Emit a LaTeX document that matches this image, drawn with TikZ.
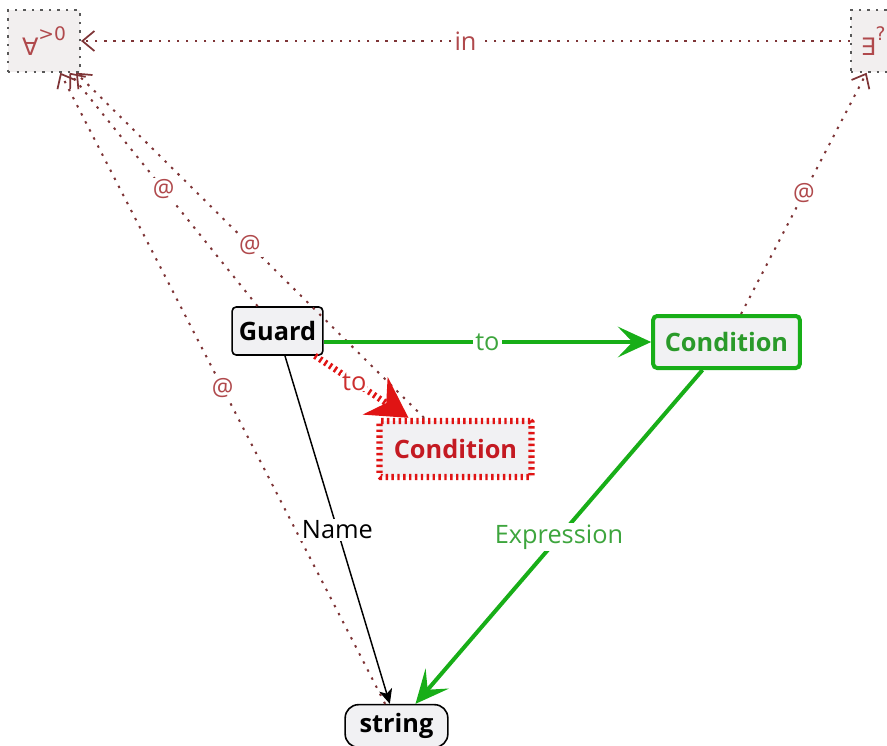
\documentclass[tikz,border=0pt]{standalone}
\usepackage{fontspec}
\setmainfont{Open Sans}
\newfontfamily\symfont{DejaVu Sans}
\usetikzlibrary{arrows.meta}

\definecolor{relline}{HTML}{7E3436}
\definecolor{reltext}{HTML}{B0494C}
\definecolor{boxfill}{HTML}{F1F1F3}
\definecolor{quantfill}{HTML}{F2EFEF}
\definecolor{grnline}{HTML}{18AE18}
\definecolor{grntext}{HTML}{2A9A2A}
\definecolor{grnlbl}{HTML}{3DA53D}
\definecolor{redline}{HTML}{E01414}
\definecolor{redtext}{HTML}{C41A22}
\definecolor{redlbl}{HTML}{CC2E2E}

\tikzset{
  classbox/.style={draw=black, line width=1.2pt, rounded corners=3pt, fill=boxfill,
    inner sep=0pt, font=\bfseries\fontsize{19}{21}\selectfont},
  goodbox/.style={classbox, draw=grnline, line width=3pt, text=grntext},
  badbox/.style={classbox, draw=redline, line width=4.8pt, rounded corners=1pt,
    dash pattern=on 1.8pt off 2.6pt, text=redtext},
  quantbox/.style={draw=black!65, line width=1.6pt, dash pattern=on 1.8pt off 4.6pt,
    fill=quantfill, inner sep=0pt, text=reltext, font=\symfont\fontsize{18}{20}\selectfont},
  lbl/.style={fill=white, inner sep=1.5pt, font=\fontsize{19}{21}\selectfont},
  rel/.style={draw=relline, line width=1.5pt, dash pattern=on 1.8pt off 5pt,
    -{Straight Barb[length=9pt,width=15pt,line width=1.3pt]}},
  atlbl/.style={lbl, text=reltext, font=\fontsize{18}{20}\selectfont},
  goodedge/.style={draw=grnline, line width=3pt,
    -{Stealth[length=25pt,width=23pt,inset=11pt]}},
  badedge/.style={draw=redline, line width=4.8pt, dash pattern=on 1.8pt off 2.6pt,
    -{Stealth[length=30pt,width=34pt,inset=10pt,line width=0pt,sep=0pt]}},
  nameedge/.style={draw=black, line width=1.1pt,
    -{Stealth[length=11pt,width=10pt,inset=3pt]}},
}

\begin{document}
\begin{tikzpicture}[x=0.75pt,y=-0.75pt]
\useasboundingbox (0,0) rectangle (887,745);

% quantifier boxes
\node[quantbox, minimum width=54pt, minimum height=46pt] (forall) at (44,41)
  {∀\raisebox{1.1ex}{\fontsize{14}{15}\selectfont >0}};
\node[quantbox, minimum width=48pt, minimum height=46pt, anchor=west] (exists) at (850,41)
  {\hspace*{-15pt}∃\raisebox{1.1ex}{\fontsize{14}{15}\selectfont ?}};

% classes
\node[classbox, minimum width=68pt, minimum height=36pt] (guard) at (277.5,331) {Guard};
\node[goodbox, minimum width=110pt, minimum height=39pt] (gcond) at (726.5,342) {Condition};
\node[badbox, minimum width=114pt, minimum height=42pt] (rcond) at (455.5,449) {Condition};
\node[classbox, rounded corners=10pt, minimum width=77pt, minimum height=32pt] (str) at (396.5,726) {string};

% references to the quantifiers
\draw[rel] (exists) -- node[lbl, text=reltext] {in} (forall);
\draw[rel] (guard) -- node[atlbl] {@} (forall);
\draw[rel] (rcond) -- node[atlbl] {@} (forall);
\draw[rel] (str) -- node[atlbl] {@} (forall);
\draw[rel] (gcond) -- node[atlbl] {@} (exists);

% associations
\draw[goodedge] (guard.east |- gcond.west) -- node[lbl, text=grnlbl] {to} (gcond.west);
\draw[badedge] (guard) -- node[lbl, text=redlbl, pos=0.42, inner sep=0.5pt] {to} (rcond);
\draw[nameedge] (guard) -- node[lbl] {Name} (str);
\draw[goodedge] (gcond) -- node[lbl, text=grnlbl] {Expression} (str);
\end{tikzpicture}
\end{document}
